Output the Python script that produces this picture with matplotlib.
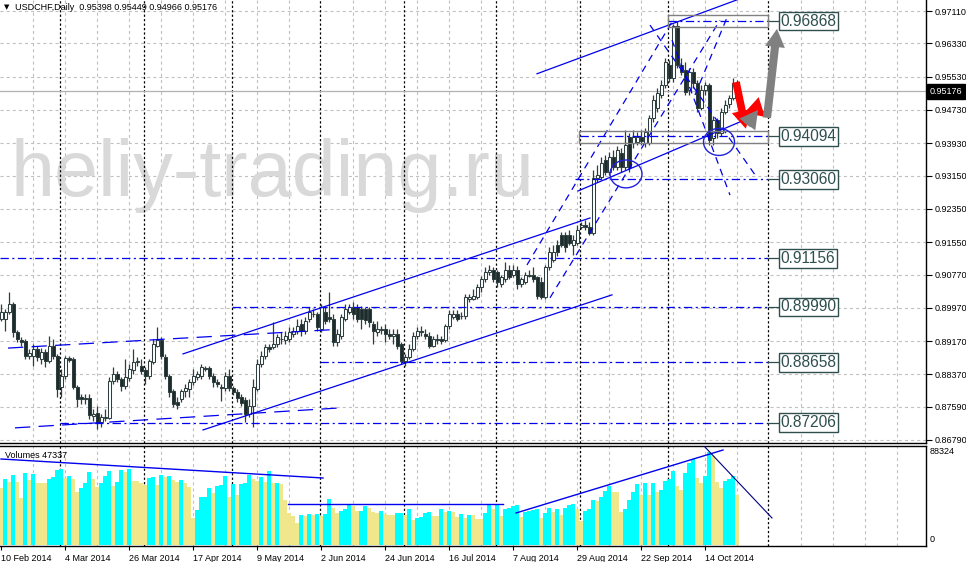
import numpy as np
import matplotlib
matplotlib.use("Agg")
import matplotlib.pyplot as plt
from matplotlib.patches import Rectangle, Ellipse

plt.rcParams['lines.scale_dashes'] = False
plt.rcParams['font.family'] = ['Liberation Sans', 'DejaVu Sans']

# ---------------- DATA (prices in pips = price * 1e4) ----------------
opens_pips = [
 8969, 8969, 8986, 9005, 8938, 8919, 8916, 8880, 8880, 8897,
 8873, 8890, 8868, 8904, 8882, 8806, 8832, 8875, 8873, 8806,
 8782, 8779, 8779, 8736, 8743, 8722, 8731, 8731, 8820, 8837,
 8825, 8808, 8827, 8847, 8866, 8856, 8847, 8832, 8866, 8906,
 8919, 8878, 8832, 8796, 8770, 8777, 8796, 8801, 8818, 8830,
 8832, 8851, 8851, 8834, 8818, 8806, 8803, 8834, 8803, 8794,
 8782, 8775, 8741, 8760, 8801, 8861, 8880, 8902, 8902, 8909,
 8923, 8919, 8921, 8933, 8940, 8957, 8940, 8969, 8981, 8981,
 8945, 8986, 8974, 8971, 8914, 8928, 8971, 8988, 8998, 8998,
 8995, 8993, 8993, 8957, 8938, 8943, 8945, 8935, 8928, 8935,
 8909, 8868, 8878, 8897, 8928, 8940, 8935, 8930, 8906, 8923,
 8923, 8919, 8952, 8974, 8983, 8976, 8976, 9017, 9019, 9024,
 9048, 9065, 9084, 9087, 9084, 9053, 9065, 9089, 9077, 9089,
 9053, 9060, 9077, 9077, 9070, 9060, 9024, 9094, 9113, 9149,
 9173, 9173, 9173, 9149, 9154, 9192, 9195, 9192, 9178, 9310,
 9312, 9353, 9324, 9360, 9336, 9370, 9336, 9408, 9394, 9396,
 9408, 9394, 9394, 9454, 9478, 9509, 9533, 9581, 9550, 9676,
 9581, 9569, 9521, 9564, 9538, 9478, 9521, 9533, 9406, 9449,
 9418, 9468, 9488, 9502, 9539.8]
highs_pips = [
 9005, 8993, 9036, 9010, 8943, 8926, 8923, 8897, 8909, 8906,
 8899, 8897, 8930, 8921, 8885, 8849, 8880, 8882, 8878, 8810,
 8789, 8789, 8789, 8753, 8760, 8741, 8753, 8830, 8854, 8844,
 8830, 8873, 8861, 8897, 8878, 8873, 8854, 8873, 8921, 8950,
 8926, 8885, 8837, 8801, 8782, 8801, 8813, 8825, 8849, 8844,
 8861, 8858, 8856, 8839, 8825, 8813, 8842, 8849, 8808, 8801,
 8789, 8782, 8777, 8825, 8873, 8892, 8909, 8909, 8962, 8933,
 8938, 8940, 8950, 8950, 8969, 8969, 8974, 8998, 8993, 8988,
 9005, 8998, 9036, 8981, 8945, 8981, 9005, 9005, 9010, 9005,
 9002, 9000, 9000, 8964, 8964, 8952, 8957, 8945, 8945, 8945,
 8914, 8885, 8909, 8938, 8950, 8952, 8945, 8938, 8930, 8933,
 8928, 8957, 8991, 8991, 8991, 8986, 9031, 9031, 9041, 9053,
 9074, 9094, 9101, 9094, 9089, 9077, 9106, 9101, 9101, 9098,
 9072, 9084, 9089, 9094, 9074, 9070, 9101, 9142, 9149, 9161,
 9180, 9180, 9185, 9173, 9197, 9204, 9207, 9204, 9329, 9341,
 9360, 9365, 9372, 9377, 9387, 9382, 9425, 9418, 9425, 9420,
 9425, 9430, 9461, 9509, 9526, 9545, 9598, 9593, 9680, 9687,
 9598, 9588, 9574, 9574, 9545, 9533, 9540, 9538, 9459, 9454,
 9478, 9497, 9509, 9550, 9544.9]
lows_pips = [
 8964, 8940, 8981, 8926, 8914, 8904, 8873, 8873, 8856, 8868,
 8861, 8854, 8863, 8873, 8782, 8782, 8825, 8866, 8801, 8758,
 8765, 8765, 8729, 8724, 8705, 8710, 8724, 8729, 8813, 8818,
 8796, 8801, 8820, 8837, 8858, 8837, 8813, 8825, 8861, 8902,
 8873, 8825, 8782, 8758, 8753, 8770, 8782, 8782, 8810, 8823,
 8825, 8844, 8825, 8806, 8806, 8772, 8796, 8796, 8786, 8770,
 8760, 8722, 8734, 8710, 8796, 8854, 8873, 8890, 8897, 8902,
 8909, 8911, 8914, 8926, 8933, 8930, 8935, 8962, 8974, 8940,
 8938, 8957, 8962, 8906, 8906, 8921, 8964, 8981, 8969, 8962,
 8945, 8957, 8950, 8909, 8930, 8935, 8914, 8921, 8909, 8897,
 8861, 8858, 8873, 8892, 8923, 8930, 8921, 8899, 8902, 8911,
 8911, 8914, 8947, 8969, 8964, 8969, 8971, 9012, 9015, 9019,
 9034, 9058, 9077, 9058, 9048, 9046, 9060, 9065, 9070, 9041,
 9046, 9053, 9070, 9058, 9017, 9017, 9017, 9089, 9108, 9122,
 9142, 9132, 9147, 9125, 9147, 9187, 9185, 9173, 9173, 9300,
 9305, 9317, 9317, 9329, 9329, 9324, 9329, 9324, 9382, 9389,
 9389, 9384, 9389, 9444, 9468, 9502, 9526, 9540, 9540, 9574,
 9557, 9509, 9509, 9526, 9468, 9473, 9509, 9389, 9389, 9406,
 9411, 9463, 9478, 9497, 9496.6]
closes_pips = [
 8986, 8986, 9005, 8938, 8923, 8914, 8880, 8887, 8897, 8878,
 8890, 8868, 8904, 8880, 8801, 8832, 8875, 8871, 8806, 8777,
 8777, 8777, 8738, 8741, 8722, 8734, 8734, 8820, 8837, 8825,
 8808, 8830, 8849, 8866, 8868, 8844, 8832, 8868, 8909, 8919,
 8880, 8832, 8794, 8765, 8762, 8796, 8803, 8818, 8832, 8837,
 8854, 8849, 8832, 8818, 8813, 8803, 8832, 8803, 8794, 8779,
 8767, 8741, 8760, 8806, 8861, 8880, 8902, 8897, 8909, 8926,
 8921, 8928, 8938, 8940, 8952, 8940, 8964, 8986, 8983, 8950,
 8998, 8964, 8969, 8914, 8933, 8974, 8993, 8998, 8981, 8969,
 8969, 8967, 8962, 8940, 8947, 8947, 8933, 8928, 8935, 8904,
 8868, 8878, 8897, 8930, 8940, 8938, 8928, 8906, 8921, 8919,
 8916, 8952, 8983, 8983, 8971, 8978, 9024, 9022, 9026, 9046,
 9065, 9084, 9087, 9065, 9058, 9070, 9089, 9072, 9089, 9053,
 9065, 9077, 9074, 9065, 9026, 9022, 9094, 9132, 9132, 9130,
 9149, 9142, 9154, 9161, 9185, 9195, 9192, 9178, 9310, 9317,
 9346, 9324, 9360, 9336, 9377, 9336, 9389, 9336, 9408, 9408,
 9399, 9420, 9454, 9497, 9514, 9533, 9588, 9550, 9676, 9581,
 9564, 9516, 9564, 9538, 9478, 9521, 9533, 9401, 9449, 9418,
 9468, 9485, 9502, 9538, 9517.6]
volumes = [
 54500, 62400, 60200, 66500, 60200, 44300, 68100, 61800, 67500, 59200,
 59200, 59200, 62400, 64900, 71300, 71900, 63300, 65600, 62400, 50700,
 53800, 58600, 69700, 62400, 54800, 58600, 65600, 70300, 56100, 60200,
 71300, 69700, 71900, 61100, 61100, 58600, 57000, 63300, 64300, 57000,
 66500, 64300, 65600, 61800, 60200, 61800, 58600, 55400, 26000, 33300,
 45300, 45900, 53800, 49100, 56400, 57000, 65600, 45300, 58000, 47500,
 58000, 58600, 66500, 62400, 61100, 64300, 60200, 70300, 58600, 59200,
 58000, 42800, 30700, 27600, 20600, 28500, 27600, 29500, 28500, 29500,
 27600, 29500, 43400, 34800, 30100, 32600, 33900, 38000, 37100, 32300,
 32600, 37100, 34800, 31700, 30100, 32300, 29500, 28500, 28500, 30100,
 30700, 28500, 33900, 23800, 25300, 26300, 30100, 31700, 27600, 27600,
 33900, 31700, 32300, 31700, 26300, 29500, 25300, 28500, 28500, 24400,
 24400, 30700, 38000, 34200, 38000, 27600, 34200, 35500, 37100, 38000,
 26300, 31700, 32600, 33300, 33900, 26000, 30700, 34800, 31700, 34200,
 28500, 34800, 38000, 38600, 33900, 23100, 32600, 34200, 42800, 42100,
 45300, 51600, 56100, 50700, 50700, 31700, 34200, 42800, 50000, 58000,
 47500, 58600, 47500, 58600, 50700, 52300, 60800, 62400, 70300, 56400,
 52300, 68700, 77600, 81400, 64000, 58600, 65900, 88324, 84600, 60200,
 54500, 61100, 62400, 65600, 47337]

date_label_bars = [0, 16, 32, 48, 64, 80, 96, 112, 128, 144, 160, 176]
date_labels = ["10 Feb 2014", "4 Mar 2014", "26 Mar 2014", "17 Apr 2014", "9 May 2014",
               "2 Jun 2014", "24 Jun 2014", "16 Jul 2014", "7 Aug 2014", "29 Aug 2014",
               "22 Sep 2014", "14 Oct 2014"]
month_start_bars = [15, 36, 58, 80, 101, 124, 145, 167, 192]
price_ticks = [0.97110, 0.96330, 0.95530, 0.94730, 0.93930, 0.93150, 0.92350,
               0.91550, 0.90770, 0.89970, 0.89170, 0.88370, 0.87590, 0.86790]
last_price = 0.95176
title_text = "USDCHF,Daily  0.95398 0.95449 0.94966 0.95176"
vol_label = "Volumes 47337"
vol_max_label = "88324"

# analysis objects (bar index, price)
solid_lines = [((134.0, 0.9560), (186.0, 0.9745)),
               ((144.25, 0.9278), (192.25, 0.9475)),
               ((45.5, 0.8886), (147.25, 0.9213)),
               ((50.5, 0.8703), (152.75, 0.9028))]
longdash_lines = [((1.75, 0.8900), (82.25, 0.8944)),
                  ((3.5, 0.8708), (84.75, 0.8756))]
dashed_lines = [((131.5, 0.9100), (167.75, 0.9685)),
                ((137.25, 0.9021), (179.75, 0.9689)),
                ((173.5, 0.9509), (181.75, 0.9701)),
                ((162.25, 0.9677), (188.5, 0.9317)),
                ((167.75, 0.9641), (182.25, 0.9268))]
levels = [0.96868, 0.94094, 0.93060, 0.91156, 0.89990, 0.88658, 0.87206]
level_starts = [166.75, 144.75, 143.5, -0.25, 57.75, 79.75, 14.75]
level_end = 191.75
label_bar = 194.5
boxes = [(166.75, 0.96725, 25.0, 0.00289), (144.5, 0.93934, 47.25, 0.00289)]
ellipses = [(156.25, 0.9319, 8.0, 0.0067), (179.5, 0.9396, 7.75, 0.0065)]
red_arrows = [((183.75, 0.9540), (186.2, 0.9428)), ((188.5, 0.9478), (191.0, 0.9456))]
gray_arrows = [((186.5, 0.9437), (189.25, 0.9473)), ((191.5, 0.9454), (194.0, 0.9668))]
vol_lines = [((0.0, 81700), (80.5, 63650)),
             ((71.75, 38950), (125.5, 38950)),
             ((128.75, 30400), (180.5, 90250))]
vol_line_down = ((175.75, 94050), (192.75, 25650))

# ---------------- FIGURE ----------------
W, H = 966, 562
fig = plt.figure(figsize=(W / 100, H / 100), dpi=100)
fig.patch.set_facecolor('white')


def fx(px):
    return px / W


def fy(py):
    return 1 - py / H


ax = fig.add_axes([0, fy(443), fx(926), 443 / H])
axv = fig.add_axes([0, fy(546), fx(926), 100 / H])

O = np.array(opens_pips) / 1e4
Hh = np.array(highs_pips) / 1e4
L = np.array(lows_pips) / 1e4
C = np.array(closes_pips) / 1e4
V = np.array(volumes, dtype=float)
N = len(C)
xb = np.arange(N)

XMIN, XMAX = -0.25, 231.25
ax.set_xlim(XMIN, XMAX)
ax.set_ylim(0.86716, 0.97375)
axv.set_xlim(XMIN, XMAX)
axv.set_ylim(-950, 94050)

GRID = '#C0C0C0'
gd = (2.2, 2.2)
# grids
for t in price_ticks:
    ax.axhline(t, color=GRID, lw=0.8, dashes=gd, zorder=0)
for b in range(8, 232, 8):
    if b in month_start_bars:
        continue
    for a in (ax, axv):
        a.axvline(b, color=GRID, lw=0.8, dashes=gd, zorder=0)
for b in month_start_bars:
    for a in (ax, axv):
        a.axvline(b - 0.25, color='black', lw=0.9, dashes=(1.6, 1.6), zorder=1)

# watermark
ax.text(fx(10), fy(196), "heliy-trading.ru", transform=fig.transFigure,
        fontsize=57, color='#D9D9D9', va='baseline', ha='left',
        family='Liberation Sans', zorder=0.5)

# current price line
ax.axhline(last_price, color='#B0B0B0', lw=0.9, zorder=1)

# candles
EDGE = '#2F3F3F'
up = C >= O
ax.vlines(xb, L, Hh, color=EDGE, lw=0.9, zorder=3)
body_h = np.maximum(np.abs(C - O), 0.00003)
ax.bar(xb, body_h, bottom=np.minimum(O, C), width=0.75,
       color=np.where(up, 'white', '#1E2B2B'), edgecolor=EDGE, linewidth=0.75, zorder=4)

BLUE = '#0000EE'
for (a, b) in solid_lines:
    ax.plot([a[0], b[0]], [a[1], b[1]], color=BLUE, lw=0.9, zorder=5)
for (a, b) in longdash_lines:
    ax.plot([a[0], b[0]], [a[1], b[1]], color=BLUE, lw=0.9, dashes=(11, 6), zorder=5)
for (a, b) in dashed_lines:
    ax.plot([a[0], b[0]], [a[1], b[1]], color=BLUE, lw=0.9, dashes=(5, 4), zorder=5)
for lev, s in zip(levels, level_starts):
    ax.plot([s, level_end], [lev, lev], color=BLUE, lw=0.9, dashes=(6, 2.5, 1.5, 2.5), zorder=5)
    ax.plot([level_end, label_bar], [lev, lev], color='#2F4F4F', lw=0.9, zorder=5)
    ax.text(label_bar + 0.35, lev, f"{lev:.5f}", fontsize=11.2, color='#2F4F4F',
            ha='left', va='center', family='Liberation Sans', zorder=6,
            bbox=dict(boxstyle='square,pad=0.12', fc='white', ec='#2F4F4F', lw=1.0))
for (x0, y0, w, h) in boxes:
    ax.add_patch(Rectangle((x0, y0), w, h, fill=False, ec='#808080', lw=1.0, zorder=5))
for (cx, cy, w, h) in ellipses:
    ax.add_patch(Ellipse((cx, cy), w, h, fill=False, ec='#2020DD', lw=1.0, zorder=6))

for (a, b) in red_arrows:
    ax.annotate('', xy=b, xytext=a, annotation_clip=False, zorder=7,
                arrowprops=dict(arrowstyle='simple,head_length=1.0,head_width=1.15,tail_width=0.42',
                                mutation_scale=13, color='#FF0000', shrinkA=0, shrinkB=0, lw=0))
for (a, b) in gray_arrows:
    ax.annotate('', xy=b, xytext=a, annotation_clip=False, zorder=7,
                arrowprops=dict(arrowstyle='simple,head_length=1.0,head_width=1.1,tail_width=0.45',
                                mutation_scale=13, color='#808080', shrinkA=0, shrinkB=0, lw=0))

# volumes
vcol = ['#F0E68C'] + ['#00FFFF' if V[i] > V[i - 1] else '#F0E68C' for i in range(1, N)]
axv.bar(xb, V, width=0.85, color=vcol, linewidth=0, zorder=2)
for (a, b) in vol_lines:
    axv.plot([a[0], b[0]], [a[1], b[1]], color=BLUE, lw=1.0, zorder=4)
axv.plot([vol_line_down[0][0], vol_line_down[1][0]], [vol_line_down[0][1], vol_line_down[1][1]],
         color='#000080', lw=0.8, zorder=4)

# axes styling
for a in (ax, axv):
    for s in ('left', 'top'):
        a.spines[s].set_visible(False)
    for s in ('right', 'bottom'):
        a.spines[s].set_color('black')
        a.spines[s].set_linewidth(1.0)
axv.spines['top'].set_visible(True)
axv.spines['top'].set_linewidth(1.0)

ax.set_xticks([])
ax.set_yticks(price_ticks)
ax.set_yticklabels([f"{t:.5f}" for t in price_ticks])
ax.yaxis.tick_right()
ax.tick_params(axis='y', length=4, width=0.8, labelsize=6.5, pad=2, colors='black')

axv.set_yticks([])
axv.set_xticks(date_label_bars)
axv.set_xticklabels(date_labels)
axv.tick_params(axis='x', length=3, width=0.8, labelsize=6.5, pad=3)
for t in axv.get_xticklabels():
    t.set_ha('left')

# current price tag
ax.annotate(f"{last_price:.5f}", xy=(1, last_price), xycoords=('axes fraction', 'data'),
            xytext=(2.5, 0), textcoords='offset points', va='center', ha='left',
            color='white', fontsize=6.5, annotation_clip=False, zorder=10,
            bbox=dict(boxstyle='square,pad=0.3', fc='black', ec='black'))

# texts
fig.text(fx(4), fy(7), "\u25bc", fontsize=5, family='DejaVu Sans', va='center', ha='left')
fig.text(fx(15), fy(7), title_text, fontsize=6.5, va='center', ha='left')
fig.text(fx(5), fy(455), vol_label, fontsize=6.5, va='center', ha='left')
fig.text(fx(930), fy(452), vol_max_label, fontsize=6.5, va='center', ha='left')
fig.text(fx(930), fy(539), "0", fontsize=6.5, va='center', ha='left')

fig.savefig("out.png", dpi=100)
